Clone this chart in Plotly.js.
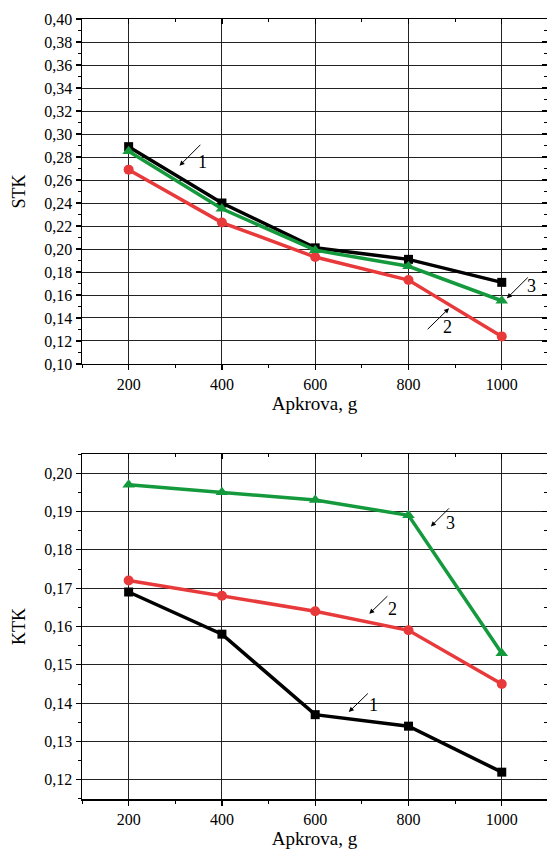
<!DOCTYPE html>
<html>
<head>
<meta charset="utf-8">
<script src="https://cdn.plot.ly/plotly-3.0.1.min.js"></script>
<style>html,body{margin:0;padding:0;background:#fff;}#chart{width:547px;height:850px;}</style>
</head>
<body>
<div id="chart"></div>
<script>
// ---------- data ----------
const loads = [200, 400, 600, 800, 1000];

// upper panel: STK
const stk1 = [0.289, 0.240, 0.201, 0.191, 0.171];
const stk2 = [0.269, 0.223, 0.193, 0.173, 0.124];
const stk3 = [0.285, 0.235, 0.199, 0.185, 0.155];

// lower panel: KTK
const ktk1 = [0.169, 0.158, 0.137, 0.134, 0.122];
const ktk2 = [0.172, 0.168, 0.164, 0.159, 0.145];
const ktk3 = [0.197, 0.195, 0.193, 0.189, 0.153];

const xTickVals = [200, 400, 600, 800, 1000];
const xTickText = ['200', '400', '600', '800', '1000'];
const yTopTickVals = [0.10, 0.12, 0.14, 0.16, 0.18, 0.20, 0.22, 0.24, 0.26, 0.28, 0.30, 0.32, 0.34, 0.36, 0.38, 0.40];
const yTopTickText = ['0,10', '0,12', '0,14', '0,16', '0,18', '0,20', '0,22', '0,24', '0,26', '0,28', '0,30', '0,32', '0,34', '0,36', '0,38', '0,40'];
const yBotTickVals = [0.12, 0.13, 0.14, 0.15, 0.16, 0.17, 0.18, 0.19, 0.20];
const yBotTickText = ['0,12', '0,13', '0,14', '0,15', '0,16', '0,17', '0,18', '0,19', '0,20'];

const xTitle = 'Apkrova, g';
const yTopTitle = 'STK';
const yBotTitle = 'KTK';
const curveLabels = ['1', '2', '3'];

// ---------- styles ----------
const FONT = "'Liberation Serif', 'Times New Roman', Times, serif";
const BLACK = '#000000', RED = '#e8393b', GREEN = '#149a3c';

function series(x, y, color, symbol, size, xa, ya) {
  return {
    x: x, y: y, xaxis: xa, yaxis: ya, type: 'scatter', mode: 'lines+markers',
    line: {color: color, width: 3.5},
    marker: {color: color, symbol: symbol, size: size},
    hoverinfo: 'skip', showlegend: false
  };
}
function dummy(xa, ya) {
  return {x: [], y: [], xaxis: xa, yaxis: ya, type: 'scatter', mode: 'markers', hoverinfo: 'skip', showlegend: false};
}

const traces = [
  series(loads, stk1, BLACK, 'square', 9, 'x', 'y'),
  series(loads, stk2, RED, 'circle', 10, 'x', 'y'),
  series(loads, stk3, GREEN, 'triangle-up', 11, 'x', 'y'),
  series(loads, ktk1, BLACK, 'square', 9, 'x2', 'y2'),
  series(loads, ktk2, RED, 'circle', 10, 'x2', 'y2'),
  series(loads, ktk3, GREEN, 'triangle-up', 11, 'x2', 'y2'),
  dummy('x3', 'y3'),
  dummy('x4', 'y4')
];

const XR = [100, 1097];
const tickFont = {family: FONT, size: 16, color: '#000'};
const titleFont = {family: FONT, size: 19, color: '#000'};

function xMain(anchor) {
  return {
    anchor: anchor, range: XR, tickmode: 'array', tickvals: xTickVals, ticktext: xTickText,
    ticks: 'outside', ticklen: 5, tickwidth: 1.2, tickcolor: '#000',
    minor: {dtick: 100, tick0: 100, ticks: 'outside', ticklen: 3, tickwidth: 1, tickcolor: '#000', showgrid: false},
    showgrid: true, gridcolor: '#222', gridwidth: 1,
    showline: true, linecolor: '#000', linewidth: 1.5, zeroline: false,
    tickfont: tickFont, title: {text: xTitle, font: titleFont, standoff: 5}
  };
}
function yMain(anchor, domain, range, vals, text, title, minorD, minor0) {
  return {
    anchor: anchor, domain: domain, range: range, tickmode: 'array', tickvals: vals, ticktext: text,
    ticks: 'outside', ticklen: 5, tickwidth: 1.2, tickcolor: '#000',
    minor: {dtick: minorD, tick0: minor0, ticks: 'outside', ticklen: 3, tickwidth: 1, tickcolor: '#000', showgrid: false},
    showgrid: true, gridcolor: '#222', gridwidth: 1,
    showline: true, linecolor: '#000', linewidth: 1.5, zeroline: false,
    tickfont: tickFont, title: {text: title, font: {family: FONT, size: 18, color: '#000'}, standoff: 14}
  };
}
function xMirror(over, anchor) {
  return {
    overlaying: over, matches: over, anchor: anchor, side: 'top', range: XR,
    tickmode: 'array', tickvals: xTickVals, ticks: 'inside', ticklen: 5, tickwidth: 1.2, tickcolor: '#000',
    minor: {dtick: 100, tick0: 100, ticks: 'inside', ticklen: 3, tickwidth: 1, tickcolor: '#000', showgrid: false},
    showticklabels: false, showgrid: false, showline: true, linecolor: '#000', linewidth: 1.5, zeroline: false
  };
}
function yMirror(over, anchor, range, vals, minorD, minor0) {
  return {
    overlaying: over, matches: over, anchor: anchor, side: 'right', range: range,
    tickmode: 'array', tickvals: vals, ticks: 'inside', ticklen: 5, tickwidth: 1.2, tickcolor: '#000',
    minor: {dtick: minorD, tick0: minor0, ticks: 'inside', ticklen: 3, tickwidth: 1, tickcolor: '#000', showgrid: false},
    showticklabels: false, showgrid: false, showline: true, linecolor: '#000', linewidth: 1.5, zeroline: false
  };
}

const topDom = [0.5577, 1], botDom = [0, 0.4423];
const topR = [0.10, 0.40], botR = [0.115, 0.205];

function arrow(xref, yref, hx, hy, tx, ty) {
  return {xref: xref, yref: yref, axref: xref, ayref: yref, x: hx, y: hy, ax: tx, ay: ty,
    text: '', showarrow: true, arrowhead: 2, arrowsize: 1, arrowwidth: 1, arrowcolor: '#000', standoff: 0, startstandoff: 0};
}
function label(xref, yref, x, y, t) {
  return {xref: xref, yref: yref, x: x, y: y, text: t, showarrow: false,
    font: {family: FONT, size: 18, color: '#000'}, xanchor: 'center', yanchor: 'middle'};
}

const annotations = [
  arrow('x', 'y', 309, 0.2724, 357, 0.2919), label('x', 'y', 358, 0.2754, curveLabels[0]),
  arrow('x', 'y', 887, 0.1484, 838, 0.1290), label('x', 'y', 884, 0.1326, curveLabels[1]),
  arrow('x', 'y', 1011, 0.1571, 1059, 0.1765), label('x', 'y', 1064, 0.1674, curveLabels[2]),
  arrow('x2', 'y2', 672, 0.1377, 716, 0.1429), label('x2', 'y2', 725, 0.1396, curveLabels[0]),
  arrow('x2', 'y2', 716, 0.1633, 758, 0.1683), label('x2', 'y2', 765, 0.1645, curveLabels[1]),
  arrow('x2', 'y2', 848, 0.1861, 890, 0.1912), label('x2', 'y2', 891, 0.1869, curveLabels[2])
];

const layout = {
  width: 547, height: 850,
  margin: {l: 82, r: 0, t: 19, b: 51},
  paper_bgcolor: '#fff', plot_bgcolor: '#fff',
  font: {family: FONT, color: '#000'},
  showlegend: false,
  xaxis: xMain('y'),
  yaxis: yMain('x', topDom, topR, yTopTickVals, yTopTickText, yTopTitle, 0.01, 0.10),
  xaxis2: xMain('y2'),
  yaxis2: yMain('x2', botDom, botR, yBotTickVals, yBotTickText, yBotTitle, 0.005, 0.115),
  xaxis3: xMirror('x', 'y3'),
  yaxis3: yMirror('y', 'x3', topR, yTopTickVals, 0.01, 0.10),
  xaxis4: xMirror('x2', 'y4'),
  yaxis4: yMirror('y2', 'x4', botR, yBotTickVals, 0.005, 0.115),
  annotations: annotations
};

Plotly.newPlot('chart', traces, layout, {staticPlot: true, displayModeBar: false});
</script>
</body>
</html>
